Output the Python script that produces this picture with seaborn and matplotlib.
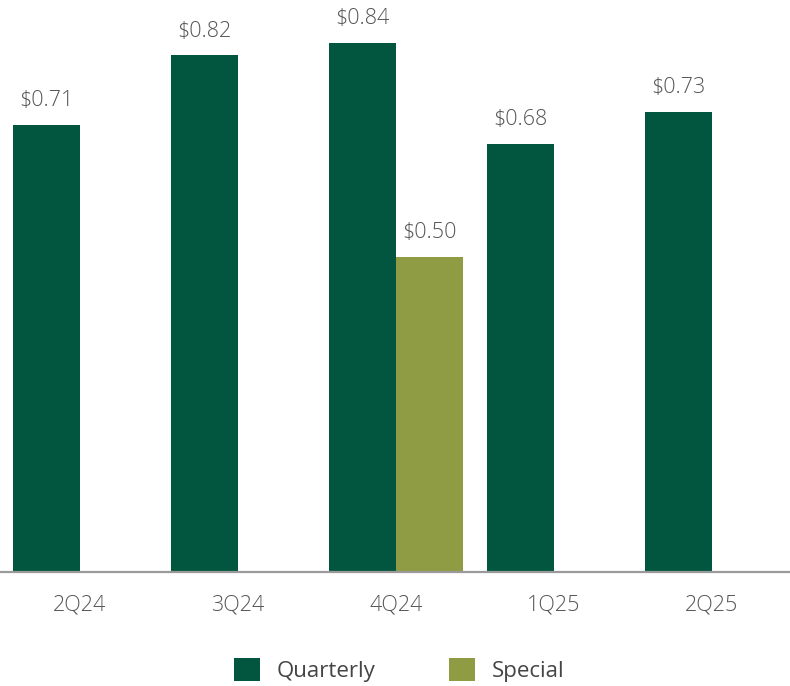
import matplotlib
matplotlib.use("Agg")
import matplotlib.pyplot as plt
import seaborn as sns
import pandas as pd
from matplotlib.patches import Patch

quarters = ["2Q24", "3Q24", "4Q24", "1Q25", "2Q25"]
quarterly = [0.71, 0.82, 0.84, 0.68, 0.73]
special_quarters = ["4Q24"]
special = [0.50]

series_names = ["Quarterly", "Special"]
colors = ["#02563F", "#8F9C43"]

rows = [{"quarter": q, "type": "Quarterly", "value": v} for q, v in zip(quarters, quarterly)]
rows += [{"quarter": q, "type": "Special", "value": v} for q, v in zip(special_quarters, special)]
df = pd.DataFrame(rows)

sns.set_theme(style="white")
plt.rcParams["font.family"] = ["Open Sans", "DejaVu Sans"]

fig = plt.figure(figsize=(7.9, 6.86), dpi=100)
ax = fig.add_axes([0.0, 0.1662, 1.0, 0.8338])

sns.barplot(data=df, x="quarter", y="value", hue="type", order=quarters,
            hue_order=series_names, palette=colors, width=0.85, gap=0,
            saturation=1, errorbar=None, ax=ax, legend=False, linewidth=0)

for cont in ax.containers:
    ax.bar_label(cont, labels=[f"${v:.2f}" for v in cont.datavalues],
                 padding=10, fontsize=15.5, color="#555555", fontweight="light")

ax.set_xlim(-0.506, 4.494)
ax.set_ylim(0, 0.908)
ax.set_xlabel("")
ax.set_ylabel("")
ax.set_yticks([])
for s in ["top", "left", "right"]:
    ax.spines[s].set_visible(False)
ax.spines["bottom"].set_color("#9a9a9a")
ax.spines["bottom"].set_linewidth(1.6)
ax.tick_params(axis="x", length=0, pad=16, labelsize=15.5, labelcolor="#555555")
for t in ax.get_xticklabels():
    t.set_fontweight("light")

handles = [Patch(facecolor=c, edgecolor="none", label=n) for c, n in zip(colors, series_names)]
fig.legend(handles=handles, loc="center", bbox_to_anchor=(0.505, 0.023), ncol=2,
           frameon=False, fontsize=16, handlelength=1.18, handleheight=1.18,
           handletextpad=0.75, columnspacing=3.3, labelcolor="#444444",
           borderaxespad=0, borderpad=0)

fig.savefig("out.png", dpi=100)
